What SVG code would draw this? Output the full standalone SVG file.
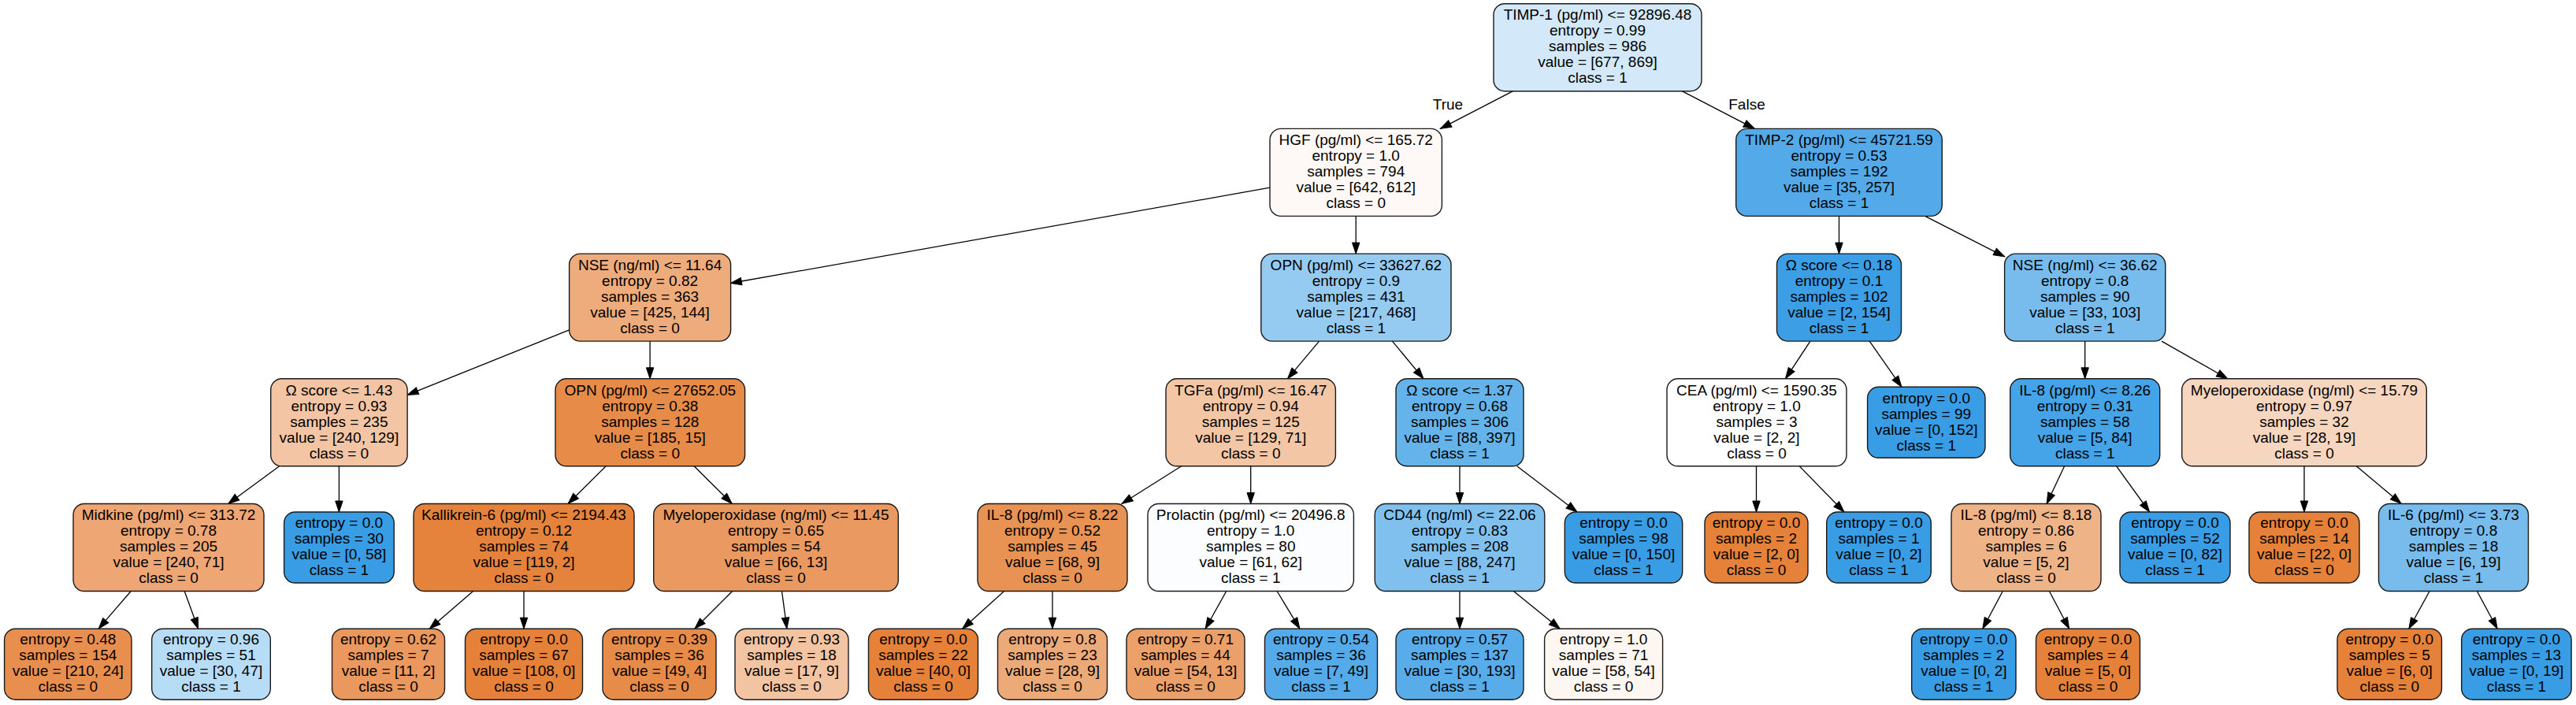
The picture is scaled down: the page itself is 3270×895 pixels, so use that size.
<svg xmlns="http://www.w3.org/2000/svg" width="3270" height="895" viewBox="0 0 3270 895">
<defs>
<style>
.node rect{stroke:#1a1a1a;stroke-width:1.4}
.node text,.lbl{font-family:"Liberation Sans",Arial,Helvetica,sans-serif;font-size:19px;fill:#000;text-anchor:middle}
#edges line{stroke:#000;stroke-width:1.3;fill:none}
</style>
<marker id="arr" markerUnits="userSpaceOnUse" markerWidth="14" markerHeight="10" refX="14" refY="5" orient="auto" overflow="visible">
<path d="M0,0.3 L14,5 L0,9.7 Z" fill="#000" stroke="#000" stroke-width="1"/>
</marker>
</defs>
<rect width="3270" height="895" fill="#fff"/>

<g id="edges">
<line x1="1920.6" y1="115.7" x2="1828.4" y2="163.4" marker-end="url(#arr)"/>
<line x1="2135.2" y1="115.7" x2="2227.3" y2="163.4" marker-end="url(#arr)"/>
<line x1="1612" y1="238.2" x2="927.4" y2="359.5" marker-end="url(#arr)"/>
<line x1="1721.2" y1="274.4" x2="1721.2" y2="322.1" marker-end="url(#arr)"/>
<line x1="722.6" y1="418.8" x2="517.1" y2="501.4" marker-end="url(#arr)"/>
<line x1="825.1" y1="433.1" x2="825.1" y2="480.8" marker-end="url(#arr)"/>
<line x1="354.7" y1="591.8" x2="289.7" y2="639.5" marker-end="url(#arr)"/>
<line x1="430.4" y1="591.8" x2="430.4" y2="650" marker-end="url(#arr)"/>
<line x1="166.2" y1="750.5" x2="125.1" y2="798.2" marker-end="url(#arr)"/>
<line x1="234.2" y1="750.5" x2="251.6" y2="798.2" marker-end="url(#arr)"/>
<line x1="769.2" y1="591.8" x2="721.1" y2="639.5" marker-end="url(#arr)"/>
<line x1="881.1" y1="591.8" x2="929.2" y2="639.5" marker-end="url(#arr)"/>
<line x1="600.6" y1="750.5" x2="545.2" y2="798.2" marker-end="url(#arr)"/>
<line x1="665" y1="750.5" x2="665" y2="798.2" marker-end="url(#arr)"/>
<line x1="929.6" y1="750.5" x2="881.9" y2="798.2" marker-end="url(#arr)"/>
<line x1="992.5" y1="750.5" x2="998.9" y2="798.2" marker-end="url(#arr)"/>
<line x1="1674.6" y1="433.1" x2="1634.5" y2="480.8" marker-end="url(#arr)"/>
<line x1="1767.4" y1="433.1" x2="1807" y2="480.8" marker-end="url(#arr)"/>
<line x1="1499.7" y1="591.8" x2="1424" y2="639.5" marker-end="url(#arr)"/>
<line x1="1587.7" y1="591.8" x2="1587.7" y2="639.5" marker-end="url(#arr)"/>
<line x1="1853" y1="591.8" x2="1853" y2="639.5" marker-end="url(#arr)"/>
<line x1="1925.7" y1="591.8" x2="2002" y2="650" marker-end="url(#arr)"/>
<line x1="1274.6" y1="750.5" x2="1221.8" y2="798.2" marker-end="url(#arr)"/>
<line x1="1336" y1="750.5" x2="1336" y2="798.2" marker-end="url(#arr)"/>
<line x1="1556.7" y1="750.5" x2="1530.1" y2="798.2" marker-end="url(#arr)"/>
<line x1="1621.1" y1="750.5" x2="1649.9" y2="798.2" marker-end="url(#arr)"/>
<line x1="1853" y1="750.5" x2="1853" y2="798.2" marker-end="url(#arr)"/>
<line x1="1921.4" y1="750.5" x2="1980.2" y2="798.2" marker-end="url(#arr)"/>
<line x1="2334.5" y1="274.4" x2="2334.5" y2="322.1" marker-end="url(#arr)"/>
<line x1="2443.7" y1="274.4" x2="2544.7" y2="325.8" marker-end="url(#arr)"/>
<line x1="2298" y1="433.1" x2="2266.5" y2="480.8" marker-end="url(#arr)"/>
<line x1="2373.2" y1="433.1" x2="2413.9" y2="491.3" marker-end="url(#arr)"/>
<line x1="2646.7" y1="433.1" x2="2646.7" y2="480.8" marker-end="url(#arr)"/>
<line x1="2744" y1="433.1" x2="2827.7" y2="480.8" marker-end="url(#arr)"/>
<line x1="2229.5" y1="591.8" x2="2229.5" y2="650" marker-end="url(#arr)"/>
<line x1="2284.2" y1="591.8" x2="2341" y2="650" marker-end="url(#arr)"/>
<line x1="2620.6" y1="591.8" x2="2598.1" y2="639.5" marker-end="url(#arr)"/>
<line x1="2686.7" y1="591.8" x2="2728.6" y2="650" marker-end="url(#arr)"/>
<line x1="2542.3" y1="750.5" x2="2516.8" y2="798.2" marker-end="url(#arr)"/>
<line x1="2601.4" y1="750.5" x2="2626.7" y2="798.2" marker-end="url(#arr)"/>
<line x1="2925" y1="591.8" x2="2925" y2="650" marker-end="url(#arr)"/>
<line x1="2991.3" y1="591.8" x2="3048.2" y2="639.5" marker-end="url(#arr)"/>
<line x1="3084.1" y1="750.5" x2="3057.9" y2="798.2" marker-end="url(#arr)"/>
<line x1="3144.4" y1="750.5" x2="3170.1" y2="798.2" marker-end="url(#arr)"/>
<text class="lbl" x="1838" y="138.5">True</text>
<text class="lbl" x="2217.5" y="138.5">False</text>
</g>

<g id="n0" class="node"><rect x="1896" y="4.7" width="264" height="111" rx="14" fill="#d3e9f9"/><text><tspan x="2028" y="25.4">TIMP-1 (pg/ml) &lt;= 92896.48</tspan><tspan x="2028" y="45.4">entropy = 0.99</tspan><tspan x="2028" y="65.4">samples = 986</tspan><tspan x="2028" y="85.4">value = [677, 869]</tspan><tspan x="2028" y="105.4">class = 1</tspan></text></g>

<g id="n1" class="node"><rect x="1612" y="163.4" width="218.4" height="111" rx="14" fill="#fef9f6"/><text><tspan x="1721.2" y="184.1">HGF (pg/ml) &lt;= 165.72</tspan><tspan x="1721.2" y="204.1">entropy = 1.0</tspan><tspan x="1721.2" y="224.1">samples = 794</tspan><tspan x="1721.2" y="244.1">value = [642, 612]</tspan><tspan x="1721.2" y="264.1">class = 0</tspan></text></g>

<g id="n2" class="node"><rect x="722.6" y="322.1" width="205" height="111" rx="14" fill="#eeac7c"/><text><tspan x="825.1" y="342.8">NSE (ng/ml) &lt;= 11.64</tspan><tspan x="825.1" y="362.8">entropy = 0.82</tspan><tspan x="825.1" y="382.8">samples = 363</tspan><tspan x="825.1" y="402.8">value = [425, 144]</tspan><tspan x="825.1" y="422.8">class = 0</tspan></text></g>

<g id="n3" class="node"><rect x="343.7" y="480.8" width="173.4" height="111" rx="14" fill="#f3c5a4"/><text><tspan x="430.4" y="501.5">Ω score &lt;= 1.43</tspan><tspan x="430.4" y="521.5">entropy = 0.93</tspan><tspan x="430.4" y="541.5">samples = 235</tspan><tspan x="430.4" y="561.5">value = [240, 129]</tspan><tspan x="430.4" y="581.5">class = 0</tspan></text></g>

<g id="n4" class="node"><rect x="93" y="639.5" width="242" height="111" rx="14" fill="#eda674"/><text><tspan x="214" y="660.2">Midkine (pg/ml) &lt;= 313.72</tspan><tspan x="214" y="680.2">entropy = 0.78</tspan><tspan x="214" y="700.2">samples = 205</tspan><tspan x="214" y="720.2">value = [240, 71]</tspan><tspan x="214" y="740.2">class = 0</tspan></text></g>

<g id="n5" class="node"><rect x="5.6" y="798.2" width="161.4" height="90" rx="14" fill="#e88f50"/><text><tspan x="86.3" y="818.4">entropy = 0.48</tspan><tspan x="86.3" y="838.4">samples = 154</tspan><tspan x="86.3" y="858.4">value = [210, 24]</tspan><tspan x="86.3" y="878.4">class = 0</tspan></text></g>

<g id="n6" class="node"><rect x="192.7" y="798.2" width="150.6" height="90" rx="14" fill="#b7dcf6"/><text><tspan x="268" y="818.4">entropy = 0.96</tspan><tspan x="268" y="838.4">samples = 51</tspan><tspan x="268" y="858.4">value = [30, 47]</tspan><tspan x="268" y="878.4">class = 1</tspan></text></g>

<g id="n7" class="node"><rect x="360.6" y="650" width="139.6" height="90" rx="14" fill="#399de5"/><text><tspan x="430.4" y="670.2">entropy = 0.0</tspan><tspan x="430.4" y="690.2">samples = 30</tspan><tspan x="430.4" y="710.2">value = [0, 58]</tspan><tspan x="430.4" y="730.2">class = 1</tspan></text></g>

<g id="n8" class="node"><rect x="705" y="480.8" width="240.6" height="111" rx="14" fill="#e78b49"/><text><tspan x="825.3" y="501.5">OPN (pg/ml) &lt;= 27652.05</tspan><tspan x="825.3" y="521.5">entropy = 0.38</tspan><tspan x="825.3" y="541.5">samples = 128</tspan><tspan x="825.3" y="561.5">value = [185, 15]</tspan><tspan x="825.3" y="581.5">class = 0</tspan></text></g>

<g id="n9" class="node"><rect x="525" y="639.5" width="280" height="111" rx="14" fill="#e5833c"/><text><tspan x="665" y="660.2">Kallikrein-6 (pg/ml) &lt;= 2194.43</tspan><tspan x="665" y="680.2">entropy = 0.12</tspan><tspan x="665" y="700.2">samples = 74</tspan><tspan x="665" y="720.2">value = [119, 2]</tspan><tspan x="665" y="740.2">class = 0</tspan></text></g>

<g id="n10" class="node"><rect x="421.5" y="798.2" width="143" height="90" rx="14" fill="#ea985d"/><text><tspan x="493" y="818.4">entropy = 0.62</tspan><tspan x="493" y="838.4">samples = 7</tspan><tspan x="493" y="858.4">value = [11, 2]</tspan><tspan x="493" y="878.4">class = 0</tspan></text></g>

<g id="n11" class="node"><rect x="590.5" y="798.2" width="149" height="90" rx="14" fill="#e58139"/><text><tspan x="665" y="818.4">entropy = 0.0</tspan><tspan x="665" y="838.4">samples = 67</tspan><tspan x="665" y="858.4">value = [108, 0]</tspan><tspan x="665" y="878.4">class = 0</tspan></text></g>

<g id="n12" class="node"><rect x="829.7" y="639.5" width="310.6" height="111" rx="14" fill="#ea9a60"/><text><tspan x="985" y="660.2">Myeloperoxidase (ng/ml) &lt;= 11.45</tspan><tspan x="985" y="680.2">entropy = 0.65</tspan><tspan x="985" y="700.2">samples = 54</tspan><tspan x="985" y="720.2">value = [66, 13]</tspan><tspan x="985" y="740.2">class = 0</tspan></text></g>

<g id="n13" class="node"><rect x="765" y="798.2" width="144" height="90" rx="14" fill="#e78b49"/><text><tspan x="837" y="818.4">entropy = 0.39</tspan><tspan x="837" y="838.4">samples = 36</tspan><tspan x="837" y="858.4">value = [49, 4]</tspan><tspan x="837" y="878.4">class = 0</tspan></text></g>

<g id="n14" class="node"><rect x="933" y="798.2" width="144" height="90" rx="14" fill="#f3c4a2"/><text><tspan x="1005" y="818.4">entropy = 0.93</tspan><tspan x="1005" y="838.4">samples = 18</tspan><tspan x="1005" y="858.4">value = [17, 9]</tspan><tspan x="1005" y="878.4">class = 0</tspan></text></g>

<g id="n15" class="node"><rect x="1600.8" y="322.1" width="241.2" height="111" rx="14" fill="#95caf1"/><text><tspan x="1721.4" y="342.8">OPN (pg/ml) &lt;= 33627.62</tspan><tspan x="1721.4" y="362.8">entropy = 0.9</tspan><tspan x="1721.4" y="382.8">samples = 431</tspan><tspan x="1721.4" y="402.8">value = [217, 468]</tspan><tspan x="1721.4" y="422.8">class = 1</tspan></text></g>

<g id="n16" class="node"><rect x="1480" y="480.8" width="215.4" height="111" rx="14" fill="#f3c6a6"/><text><tspan x="1587.7" y="501.5">TGFa (pg/ml) &lt;= 16.47</tspan><tspan x="1587.7" y="521.5">entropy = 0.94</tspan><tspan x="1587.7" y="541.5">samples = 125</tspan><tspan x="1587.7" y="561.5">value = [129, 71]</tspan><tspan x="1587.7" y="581.5">class = 0</tspan></text></g>

<g id="n17" class="node"><rect x="1241" y="639.5" width="190" height="111" rx="14" fill="#e89253"/><text><tspan x="1336" y="660.2">IL-8 (pg/ml) &lt;= 8.22</tspan><tspan x="1336" y="680.2">entropy = 0.52</tspan><tspan x="1336" y="700.2">samples = 45</tspan><tspan x="1336" y="720.2">value = [68, 9]</tspan><tspan x="1336" y="740.2">class = 0</tspan></text></g>

<g id="n18" class="node"><rect x="1102.5" y="798.2" width="139" height="90" rx="14" fill="#e58139"/><text><tspan x="1172" y="818.4">entropy = 0.0</tspan><tspan x="1172" y="838.4">samples = 22</tspan><tspan x="1172" y="858.4">value = [40, 0]</tspan><tspan x="1172" y="878.4">class = 0</tspan></text></g>

<g id="n19" class="node"><rect x="1266.5" y="798.2" width="139" height="90" rx="14" fill="#edaa79"/><text><tspan x="1336" y="818.4">entropy = 0.8</tspan><tspan x="1336" y="838.4">samples = 23</tspan><tspan x="1336" y="858.4">value = [28, 9]</tspan><tspan x="1336" y="878.4">class = 0</tspan></text></g>

<g id="n20" class="node"><rect x="1457" y="639.5" width="261.4" height="111" rx="14" fill="#fcfdff"/><text><tspan x="1587.7" y="660.2">Prolactin (pg/ml) &lt;= 20496.8</tspan><tspan x="1587.7" y="680.2">entropy = 1.0</tspan><tspan x="1587.7" y="700.2">samples = 80</tspan><tspan x="1587.7" y="720.2">value = [61, 62]</tspan><tspan x="1587.7" y="740.2">class = 1</tspan></text></g>

<g id="n21" class="node"><rect x="1430" y="798.2" width="150" height="90" rx="14" fill="#eb9f69"/><text><tspan x="1505" y="818.4">entropy = 0.71</tspan><tspan x="1505" y="838.4">samples = 44</tspan><tspan x="1505" y="858.4">value = [54, 13]</tspan><tspan x="1505" y="878.4">class = 0</tspan></text></g>

<g id="n22" class="node"><rect x="1605.5" y="798.2" width="143" height="90" rx="14" fill="#55abe9"/><text><tspan x="1677" y="818.4">entropy = 0.54</tspan><tspan x="1677" y="838.4">samples = 36</tspan><tspan x="1677" y="858.4">value = [7, 49]</tspan><tspan x="1677" y="878.4">class = 1</tspan></text></g>

<g id="n23" class="node"><rect x="1772" y="480.8" width="162" height="111" rx="14" fill="#65b3eb"/><text><tspan x="1853" y="501.5">Ω score &lt;= 1.37</tspan><tspan x="1853" y="521.5">entropy = 0.68</tspan><tspan x="1853" y="541.5">samples = 306</tspan><tspan x="1853" y="561.5">value = [88, 397]</tspan><tspan x="1853" y="581.5">class = 1</tspan></text></g>

<g id="n24" class="node"><rect x="1745.2" y="639.5" width="215.6" height="111" rx="14" fill="#80c0ee"/><text><tspan x="1853" y="660.2">CD44 (ng/ml) &lt;= 22.06</tspan><tspan x="1853" y="680.2">entropy = 0.83</tspan><tspan x="1853" y="700.2">samples = 208</tspan><tspan x="1853" y="720.2">value = [88, 247]</tspan><tspan x="1853" y="740.2">class = 1</tspan></text></g>

<g id="n25" class="node"><rect x="1772" y="798.2" width="162" height="90" rx="14" fill="#58ace9"/><text><tspan x="1853" y="818.4">entropy = 0.57</tspan><tspan x="1853" y="838.4">samples = 137</tspan><tspan x="1853" y="858.4">value = [30, 193]</tspan><tspan x="1853" y="878.4">class = 1</tspan></text></g>

<g id="n26" class="node"><rect x="1960.6" y="798.2" width="150" height="90" rx="14" fill="#fdf6f1"/><text><tspan x="2035.6" y="818.4">entropy = 1.0</tspan><tspan x="2035.6" y="838.4">samples = 71</tspan><tspan x="2035.6" y="858.4">value = [58, 54]</tspan><tspan x="2035.6" y="878.4">class = 0</tspan></text></g>

<g id="n27" class="node"><rect x="1986.3" y="650" width="149.4" height="90" rx="14" fill="#399de5"/><text><tspan x="2061" y="670.2">entropy = 0.0</tspan><tspan x="2061" y="690.2">samples = 98</tspan><tspan x="2061" y="710.2">value = [0, 150]</tspan><tspan x="2061" y="730.2">class = 1</tspan></text></g>

<g id="n28" class="node"><rect x="2203.7" y="163.4" width="261.6" height="111" rx="14" fill="#54aae9"/><text><tspan x="2334.5" y="184.1">TIMP-2 (pg/ml) &lt;= 45721.59</tspan><tspan x="2334.5" y="204.1">entropy = 0.53</tspan><tspan x="2334.5" y="224.1">samples = 192</tspan><tspan x="2334.5" y="244.1">value = [35, 257]</tspan><tspan x="2334.5" y="264.1">class = 1</tspan></text></g>

<g id="n29" class="node"><rect x="2255.5" y="322.1" width="158" height="111" rx="14" fill="#3c9ee5"/><text><tspan x="2334.5" y="342.8">Ω score &lt;= 0.18</tspan><tspan x="2334.5" y="362.8">entropy = 0.1</tspan><tspan x="2334.5" y="382.8">samples = 102</tspan><tspan x="2334.5" y="402.8">value = [2, 154]</tspan><tspan x="2334.5" y="422.8">class = 1</tspan></text></g>

<g id="n30" class="node"><rect x="2116" y="480.8" width="228" height="111" rx="14" fill="#ffffff"/><text><tspan x="2230" y="501.5">CEA (pg/ml) &lt;= 1590.35</tspan><tspan x="2230" y="521.5">entropy = 1.0</tspan><tspan x="2230" y="541.5">samples = 3</tspan><tspan x="2230" y="561.5">value = [2, 2]</tspan><tspan x="2230" y="581.5">class = 0</tspan></text></g>

<g id="n31" class="node"><rect x="2164" y="650" width="131" height="90" rx="14" fill="#e58139"/><text><tspan x="2229.5" y="670.2">entropy = 0.0</tspan><tspan x="2229.5" y="690.2">samples = 2</tspan><tspan x="2229.5" y="710.2">value = [2, 0]</tspan><tspan x="2229.5" y="730.2">class = 0</tspan></text></g>

<g id="n32" class="node"><rect x="2318.7" y="650" width="132.6" height="90" rx="14" fill="#399de5"/><text><tspan x="2385" y="670.2">entropy = 0.0</tspan><tspan x="2385" y="690.2">samples = 1</tspan><tspan x="2385" y="710.2">value = [0, 2]</tspan><tspan x="2385" y="730.2">class = 1</tspan></text></g>

<g id="n33" class="node"><rect x="2370.6" y="491.3" width="149.4" height="90" rx="14" fill="#399de5"/><text><tspan x="2445.3" y="511.5">entropy = 0.0</tspan><tspan x="2445.3" y="531.5">samples = 99</tspan><tspan x="2445.3" y="551.5">value = [0, 152]</tspan><tspan x="2445.3" y="571.5">class = 1</tspan></text></g>

<g id="n34" class="node"><rect x="2544.6" y="322.1" width="204.2" height="111" rx="14" fill="#78bced"/><text><tspan x="2646.7" y="342.8">NSE (ng/ml) &lt;= 36.62</tspan><tspan x="2646.7" y="362.8">entropy = 0.8</tspan><tspan x="2646.7" y="382.8">samples = 90</tspan><tspan x="2646.7" y="402.8">value = [33, 103]</tspan><tspan x="2646.7" y="422.8">class = 1</tspan></text></g>

<g id="n35" class="node"><rect x="2551.7" y="480.8" width="190" height="111" rx="14" fill="#45a3e7"/><text><tspan x="2646.7" y="501.5">IL-8 (pg/ml) &lt;= 8.26</tspan><tspan x="2646.7" y="521.5">entropy = 0.31</tspan><tspan x="2646.7" y="541.5">samples = 58</tspan><tspan x="2646.7" y="561.5">value = [5, 84]</tspan><tspan x="2646.7" y="581.5">class = 1</tspan></text></g>

<g id="n36" class="node"><rect x="2477" y="639.5" width="190" height="111" rx="14" fill="#efb388"/><text><tspan x="2572" y="660.2">IL-8 (pg/ml) &lt;= 8.18</tspan><tspan x="2572" y="680.2">entropy = 0.86</tspan><tspan x="2572" y="700.2">samples = 6</tspan><tspan x="2572" y="720.2">value = [5, 2]</tspan><tspan x="2572" y="740.2">class = 0</tspan></text></g>

<g id="n37" class="node"><rect x="2426.7" y="798.2" width="132.3" height="90" rx="14" fill="#399de5"/><text><tspan x="2492.85" y="818.4">entropy = 0.0</tspan><tspan x="2492.85" y="838.4">samples = 2</tspan><tspan x="2492.85" y="858.4">value = [0, 2]</tspan><tspan x="2492.85" y="878.4">class = 1</tspan></text></g>

<g id="n38" class="node"><rect x="2584.5" y="798.2" width="132" height="90" rx="14" fill="#e58139"/><text><tspan x="2650.5" y="818.4">entropy = 0.0</tspan><tspan x="2650.5" y="838.4">samples = 4</tspan><tspan x="2650.5" y="858.4">value = [5, 0]</tspan><tspan x="2650.5" y="878.4">class = 0</tspan></text></g>

<g id="n39" class="node"><rect x="2691" y="650" width="140" height="90" rx="14" fill="#399de5"/><text><tspan x="2761" y="670.2">entropy = 0.0</tspan><tspan x="2761" y="690.2">samples = 52</tspan><tspan x="2761" y="710.2">value = [0, 82]</tspan><tspan x="2761" y="730.2">class = 1</tspan></text></g>

<g id="n40" class="node"><rect x="2769.7" y="480.8" width="310.6" height="111" rx="14" fill="#f7d6bf"/><text><tspan x="2925" y="501.5">Myeloperoxidase (ng/ml) &lt;= 15.79</tspan><tspan x="2925" y="521.5">entropy = 0.97</tspan><tspan x="2925" y="541.5">samples = 32</tspan><tspan x="2925" y="561.5">value = [28, 19]</tspan><tspan x="2925" y="581.5">class = 0</tspan></text></g>

<g id="n41" class="node"><rect x="2855" y="650" width="140" height="90" rx="14" fill="#e58139"/><text><tspan x="2925" y="670.2">entropy = 0.0</tspan><tspan x="2925" y="690.2">samples = 14</tspan><tspan x="2925" y="710.2">value = [22, 0]</tspan><tspan x="2925" y="730.2">class = 0</tspan></text></g>

<g id="n42" class="node"><rect x="3019.5" y="639.5" width="190" height="111" rx="14" fill="#78bced"/><text><tspan x="3114.5" y="660.2">IL-6 (pg/ml) &lt;= 3.73</tspan><tspan x="3114.5" y="680.2">entropy = 0.8</tspan><tspan x="3114.5" y="700.2">samples = 18</tspan><tspan x="3114.5" y="720.2">value = [6, 19]</tspan><tspan x="3114.5" y="740.2">class = 1</tspan></text></g>

<g id="n43" class="node"><rect x="2967" y="798.2" width="132.5" height="90" rx="14" fill="#e58139"/><text><tspan x="3033.25" y="818.4">entropy = 0.0</tspan><tspan x="3033.25" y="838.4">samples = 5</tspan><tspan x="3033.25" y="858.4">value = [6, 0]</tspan><tspan x="3033.25" y="878.4">class = 0</tspan></text></g>

<g id="n44" class="node"><rect x="3124.7" y="798.2" width="139.4" height="90" rx="14" fill="#399de5"/><text><tspan x="3194.4" y="818.4">entropy = 0.0</tspan><tspan x="3194.4" y="838.4">samples = 13</tspan><tspan x="3194.4" y="858.4">value = [0, 19]</tspan><tspan x="3194.4" y="878.4">class = 1</tspan></text></g>
</svg>
